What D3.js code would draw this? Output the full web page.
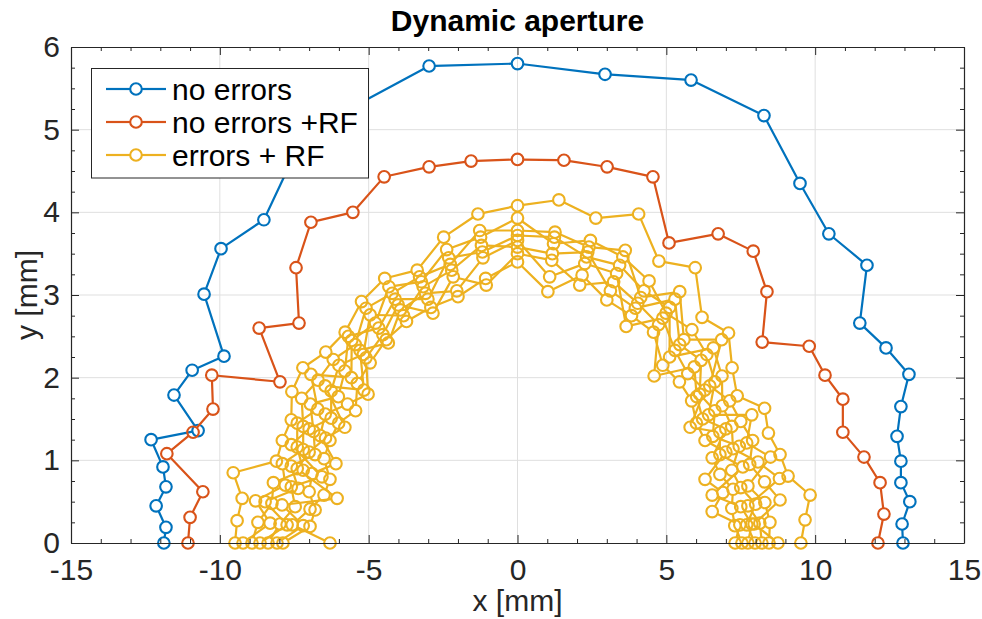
<!DOCTYPE html>
<html>
<head>
<meta charset="utf-8">
<script src="https://cdn.jsdelivr.net/npm/d3@7"></script>
<style>
  body { margin: 0; background: #fff; }
  svg { display: block; }
  text { font-family: "Liberation Sans", Arial, Helvetica, sans-serif; }
</style>
</head>
<body>
<svg id="chart" width="982" height="619"></svg>
<script>
// Dynamic aperture boundaries (x, y in mm)
const noErrors = [[-11.88,0],[-11.81,0.19],[-12.14,0.45],[-11.81,0.68],[-11.91,0.92],[-12.31,1.25],[-10.73,1.36],[-11.54,1.79],[-10.93,2.09],[-9.86,2.26],[-10.53,3.01],[-9.96,3.56],[-8.52,3.91],[-7.50,4.69],[-5.50,5.28],[-2.97,5.77],[0,5.80],[2.94,5.67],[5.83,5.60],[8.28,5.17],[9.49,4.35],[10.46,3.74],[11.74,3.36],[11.50,2.66],[12.38,2.36],[13.15,2.04],[12.88,1.65],[12.75,1.29],[12.88,0.99],[12.88,0.73],[13.18,0.50],[12.92,0.23],[12.95,0]];

const noErrorsRF = [[-11.07,0],[-11.00,0.31],[-10.57,0.62],[-11.78,1.08],[-10.90,1.34],[-10.23,1.62],[-10.27,2.03],[-7.98,1.95],[-8.68,2.60],[-7.34,2.66],[-7.44,3.33],[-6.94,3.88],[-5.53,4.00],[-4.48,4.43],[-2.97,4.55],[-1.56,4.62],[0,4.64],[1.56,4.63],[3.01,4.55],[4.55,4.43],[5.09,3.63],[6.74,3.74],[7.92,3.53],[8.38,3.04],[8.22,2.43],[9.80,2.38],[10.33,2.03],[10.93,1.74],[10.93,1.34],[11.64,1.04],[12.18,0.73],[12.31,0.35],[12.11,0]];

// errors + RF, one boundary per error seed
const errRF1 = [[-9.49,0],[-9.42,0.27],[-9.25,0.54],[-9.55,0.85],[-8.10,0.99],[-7.90,1.24],[-7.60,1.49],[-7.58,1.83],[-7.21,2.12],[-6.44,2.31],[-5.79,2.55],[-5.24,2.92],[-4.46,3.20],[-3.37,3.30],[-2.48,3.70],[-1.33,3.98],[0,4.08],[1.39,4.15],[2.63,3.93],[4.07,3.98],[4.75,3.41],[5.97,3.33],[6.20,2.73],[7.09,2.54],[7.21,2.12],[7.38,1.78],[8.30,1.63],[8.43,1.33],[8.82,1.07],[9.09,0.81],[9.83,0.58],[9.66,0.28],[9.52,0]];
const errRF2 = [[-9.22,0],[-8.31,0.24],[-8.80,0.51],[-7.80,0.70],[-7.90,0.96],[-7.20,1.13],[-7.20,1.41],[-7.25,1.75],[-6.70,1.97],[-6.19,2.22],[-5.45,2.40],[-5.09,2.84],[-4.21,3.02],[-3.29,3.22],[-2.26,3.37],[-1.27,3.78],[0,3.78],[1.26,3.76],[2.40,3.58],[3.62,3.54],[4.14,2.97],[5.45,3.04],[5.59,2.46],[6.86,2.46],[6.46,1.90],[7.13,1.72],[7.50,1.47],[7.90,1.24],[7.80,0.95],[8.30,0.74],[8.82,0.52],[7.95,0.23],[8.75,0]];
const errRF3 = [[-8.92,0],[-8.72,0.25],[-8.25,0.48],[-8.20,0.73],[-7.20,0.88],[-7.40,1.16],[-7.40,1.45],[-6.71,1.62],[-6.94,2.04],[-5.58,2.00],[-5.57,2.45],[-4.77,2.66],[-4.32,3.10],[-3.23,3.16],[-2.38,3.55],[-1.24,3.70],[0,3.93],[1.21,3.62],[2.45,3.66],[3.54,3.46],[4.42,3.17],[4.99,2.78],[5.86,2.58],[6.36,2.28],[6.63,1.95],[6.42,1.55],[7.87,1.55],[7.70,1.21],[8.50,1.04],[7.74,0.69],[8.31,0.49],[8.48,0.25],[8.45,0]];
const errRF4 = [[-8.65,0],[-7.74,0.22],[-8.48,0.50],[-7.37,0.66],[-7.60,0.93],[-6.80,1.07],[-6.85,1.35],[-6.96,1.68],[-6.02,1.77],[-5.80,2.08],[-5.68,2.50],[-4.66,2.60],[-4.11,2.95],[-3.01,2.95],[-2.31,3.45],[-1.18,3.52],[0,3.72],[1.24,3.70],[2.32,3.46],[3.43,3.36],[4.25,3.05],[5.11,2.85],[5.11,2.25],[6.58,2.36],[6.87,2.02],[6.88,1.66],[7.20,1.41],[7.24,1.14],[8.08,0.98],[8.80,0.78],[7.74,0.45],[8.14,0.24],[8.21,0]];
const errRF5 = [[-8.38,0],[-7.98,0.23],[-7.47,0.44],[-7.60,0.68],[-6.57,0.80],[-7.60,1.19],[-7.00,1.38],[-6.26,1.51],[-6.26,1.84],[-6.00,2.15],[-5.18,2.28],[-4.95,2.76],[-3.83,2.75],[-3.17,3.10],[-2.21,3.30],[-1.21,3.60],[0,3.58],[1.17,3.50],[2.36,3.52],[3.12,3.05],[3.96,2.84],[5.29,2.95],[5.45,2.40],[6.17,2.21],[6.12,1.80],[6.63,1.60],[6.56,1.29],[7.45,1.17],[7.20,0.88],[7.50,0.67],[8.00,0.47],[7.70,0.22],[7.98,0]];
const errRF6 = [[-8.08,0],[-7.20,0.21],[-7.91,0.46],[-6.06,0.54],[-7.40,0.90],[-7.00,1.10],[-6.45,1.27],[-5.80,1.40],[-6.46,1.90],[-5.16,1.85],[-5.29,2.33],[-4.34,2.42],[-3.93,2.82],[-3.09,3.02],[-2.04,3.05],[-1.16,3.45],[0,3.66],[1.08,3.22],[2.26,3.38],[3.33,3.26],[3.65,2.62],[4.88,2.72],[5.29,2.33],[5.72,2.05],[6.29,1.85],[5.80,1.40],[6.80,1.34],[6.80,1.07],[7.57,0.92],[6.54,0.58],[7.50,0.44],[7.87,0.23],[7.74,0]];
const errRF7 = [[-7.88,0],[-6.97,0.20],[-6.80,0.40],[-7.00,0.62],[-6.90,0.84],[-6.10,0.96],[-6.63,1.30],[-6.46,1.56],[-5.71,1.68],[-5.02,1.80],[-5.09,2.24],[-4.52,2.52],[-4.01,2.88],[-2.84,2.78],[-2.16,3.22],[-1.05,3.12],[0,3.50],[1.15,3.42],[2.09,3.12],[3.23,3.16],[4.04,2.90],[4.74,2.64],[4.59,2.02],[5.94,2.13],[6.02,1.77],[6.22,1.50],[7.00,1.38],[6.54,1.03],[6.80,0.83],[7.24,0.65],[7.20,0.42],[7.30,0.21],[7.54,0]];
const errRF8 = [[-6.30,0],[-7.57,0.22],[-6.97,0.41],[-6.50,0.58],[-6.30,0.77],[-6.50,1.02],[-6.30,1.24],[-6.01,1.45],[-5.44,1.60],[-5.38,1.93],[-4.95,2.18],[-4.41,2.46],[-3.73,2.68],[-2.91,2.85],[-2.00,2.98],[-1.07,3.20],[0,3.40],[1.02,3.04],[2.17,3.24],[3.00,2.94],[3.83,2.75],[4.57,2.55],[4.88,2.15],[5.44,1.95],[5.85,1.72],[6.01,1.45],[6.30,1.24],[7.00,1.10],[6.30,0.77],[6.90,0.61],[6.54,0.38],[7.47,0.22],[7.31,0]];

const xTicks = [-15, -10, -5, 0, 5, 10, 15];
const yTicks = [0, 1, 2, 3, 4, 5, 6];
const seriesNames = ["no errors", "no errors +RF", "errors + RF"];
const seriesColors = ["#0072BD", "#D95319", "#EDB120"];

const W = 982, H = 619;
const x = d3.scaleLinear().domain([-15, 15]).range([71, 964]);
const y = d3.scaleLinear().domain([0, 6]).range([543, 47]);
const axisColor = "#262626";
const R = 5.8;

const svg = d3.select("#chart");
svg.append("rect").attr("width", W).attr("height", H).attr("fill", "#fff");

// grid
const grid = svg.append("g").attr("stroke", "#dfdfdf").attr("stroke-width", 1);
grid.selectAll("line.gx").data(xTicks.slice(1, -1)).join("line")
  .attr("x1", d => x(d)).attr("x2", d => x(d)).attr("y1", y(0)).attr("y2", y(6));
grid.selectAll("line.gy").data(yTicks.slice(1, -1)).join("line")
  .attr("y1", d => y(d)).attr("y2", d => y(d)).attr("x1", x(-15)).attr("x2", x(15));

// series: line segments stop at the open circle markers
const plot = svg.append("g");
function drawSeries(pts, color) {
  const g = plot.append("g");
  const px = pts.map(([a, b]) => [x(a), y(b)]);
  let d = "";
  for (let i = 1; i < px.length; i++) {
    const [x0, y0] = px[i - 1], [x1, y1] = px[i];
    const len = Math.hypot(x1 - x0, y1 - y0);
    if (len <= 2 * R) continue;
    const ux = (x1 - x0) / len, uy = (y1 - y0) / len;
    d += `M${x0 + ux * R},${y0 + uy * R}L${x1 - ux * R},${y1 - uy * R}`;
  }
  g.append("path").attr("d", d).attr("fill", "none")
    .attr("stroke", color).attr("stroke-width", 2.2);
  g.selectAll("circle").data(px).join("circle")
    .attr("cx", p => p[0]).attr("cy", p => p[1]).attr("r", R)
    .attr("fill", "none").attr("stroke", color).attr("stroke-width", 2.1);
}
drawSeries(noErrors, seriesColors[0]);
drawSeries(noErrorsRF, seriesColors[1]);
[errRF1, errRF2, errRF3, errRF4, errRF5, errRF6, errRF7, errRF8]
  .forEach(s => drawSeries(s, seriesColors[2]));

// axes (ticks pointing inward on all four sides)
function styleAxis(g) {
  g.attr("font-size", 30).attr("font-family", '"Liberation Sans", Arial, sans-serif');
  g.select(".domain").attr("stroke", axisColor).attr("stroke-width", 1.2);
  g.selectAll(".tick line").attr("stroke", axisColor).attr("stroke-width", 1);
  g.selectAll(".tick text").attr("fill", axisColor);
}
const xMinor = d3.range(-15, 16, 1).filter(v => v % 5 !== 0);
const yMinor = d3.range(0, 6.001, 0.25).filter(v => v % 1 !== 0);

svg.append("g").attr("transform", `translate(0,${y(0)})`)
  .call(d3.axisBottom(x).tickValues(xTicks).tickFormat(d => String(d))
    .tickSize(-8).tickSizeOuter(0).tickPadding(16)).call(styleAxis);
svg.append("g").attr("transform", `translate(0,${y(0)})`)
  .call(d3.axisBottom(x).tickValues(xMinor).tickFormat("").tickSize(-4).tickSizeOuter(0))
  .call(styleAxis).call(g => g.select(".domain").remove());
svg.append("g").attr("transform", `translate(0,${y(6)})`)
  .call(d3.axisTop(x).tickValues(xTicks).tickFormat("").tickSize(-8).tickSizeOuter(0)).call(styleAxis);
svg.append("g").attr("transform", `translate(0,${y(6)})`)
  .call(d3.axisTop(x).tickValues(xMinor).tickFormat("").tickSize(-4).tickSizeOuter(0))
  .call(styleAxis).call(g => g.select(".domain").remove());

svg.append("g").attr("transform", `translate(${x(-15)},0)`)
  .call(d3.axisLeft(y).tickValues(yTicks).tickFormat(d => String(d))
    .tickSize(-8).tickSizeOuter(0).tickPadding(11)).call(styleAxis);
svg.append("g").attr("transform", `translate(${x(-15)},0)`)
  .call(d3.axisLeft(y).tickValues(yMinor).tickFormat("").tickSize(-4).tickSizeOuter(0))
  .call(styleAxis).call(g => g.select(".domain").remove());
svg.append("g").attr("transform", `translate(${x(15)},0)`)
  .call(d3.axisRight(y).tickValues(yTicks).tickFormat("").tickSize(-8).tickSizeOuter(0)).call(styleAxis);
svg.append("g").attr("transform", `translate(${x(15)},0)`)
  .call(d3.axisRight(y).tickValues(yMinor).tickFormat("").tickSize(-4).tickSizeOuter(0))
  .call(styleAxis).call(g => g.select(".domain").remove());

// labels and title
svg.append("text").attr("x", (x(-15) + x(15)) / 2).attr("y", 611)
  .attr("text-anchor", "middle").attr("font-size", 30).attr("fill", axisColor).text("x [mm]");
svg.append("text").attr("transform", `translate(37,${(y(0) + y(6)) / 2}) rotate(-90)`)
  .attr("text-anchor", "middle").attr("font-size", 30).attr("fill", axisColor).text("y [mm]");
svg.append("text").attr("x", (x(-15) + x(15)) / 2).attr("y", 31)
  .attr("text-anchor", "middle").attr("font-size", 30).attr("font-weight", "bold")
  .attr("fill", "#000").text("Dynamic aperture");

// legend
const lg = svg.append("g");
lg.append("rect").attr("x", 91.5).attr("y", 68.5).attr("width", 277).attr("height", 109.5)
  .attr("fill", "#fff").attr("stroke", axisColor).attr("stroke-width", 1);
seriesNames.forEach((name, i) => {
  const cy = 89 + i * 33;
  const c = seriesColors[i];
  lg.append("line").attr("x1", 106).attr("x2", 136 - R).attr("y1", cy).attr("y2", cy)
    .attr("stroke", c).attr("stroke-width", 2.2);
  lg.append("line").attr("x1", 136 + R).attr("x2", 166).attr("y1", cy).attr("y2", cy)
    .attr("stroke", c).attr("stroke-width", 2.2);
  lg.append("circle").attr("cx", 136).attr("cy", cy).attr("r", R)
    .attr("fill", "none").attr("stroke", c).attr("stroke-width", 2.1);
  lg.append("text").attr("x", 172).attr("y", cy + 10.5).attr("font-size", 30)
    .attr("fill", "#000").text(name);
});
</script>
</body>
</html>
